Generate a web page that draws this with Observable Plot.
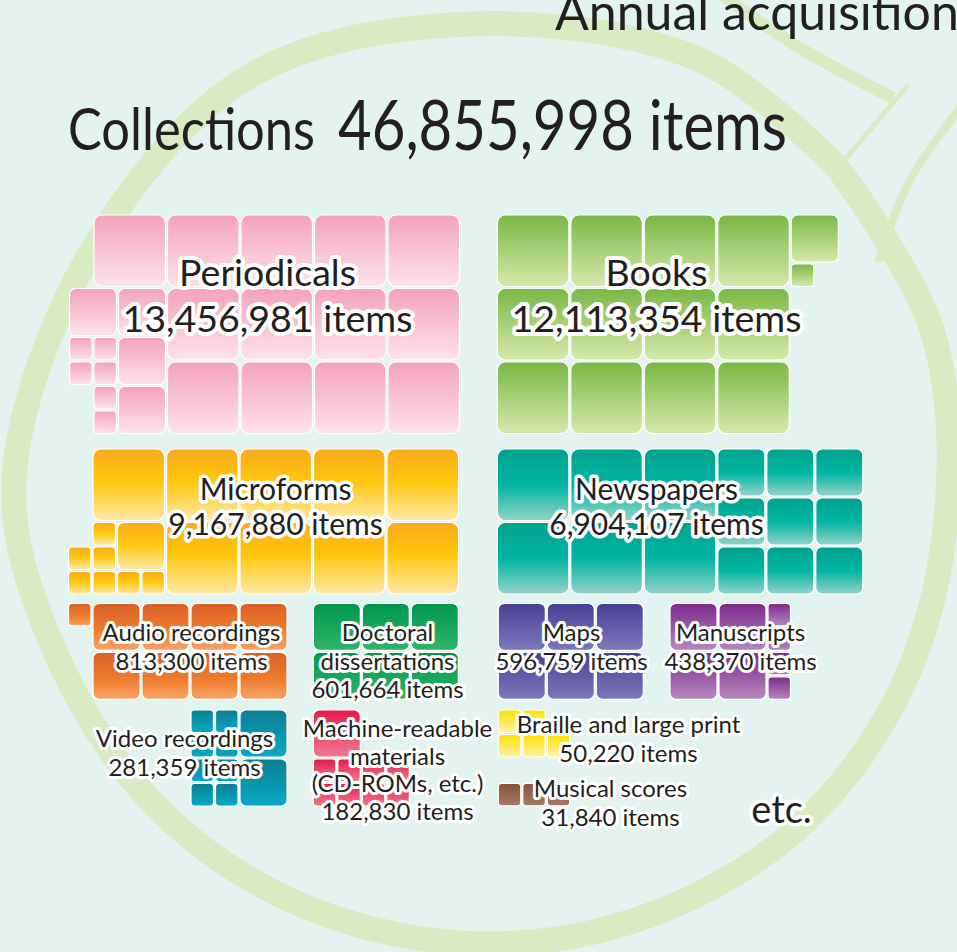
<!DOCTYPE html>
<html>
<head>
<meta charset="utf-8">
<script src="https://cdn.jsdelivr.net/npm/d3@7"></script>
<script src="https://cdn.jsdelivr.net/npm/@observablehq/plot@0.6"></script>
<style>
html,body{margin:0;padding:0;background:#e2f3f0;overflow:hidden}
#page{position:relative;width:957px;height:952px;overflow:hidden;background:#e2f3f0}
#page > svg{position:absolute;left:0;top:0}
</style>
</head>
<body>
<div id="page"></div>
<script>
// ---------------- data ----------------
const categories = ["Periodicals","Books","Microforms","Newspapers","Audio recordings",
  "Doctoral dissertations","Maps","Manuscripts","Video recordings",
  "Machine-readable materials (CD-ROMs, etc.)","Braille and large print","Musical scores"];
const items = [13456981,12113354,9167880,6904107,813300,601664,596759,438370,281359,182830,50220,31840];
const labelLines = [["Periodicals"],["Books"],["Microforms"],["Newspapers"],["Audio recordings"],
  ["Doctoral","dissertations"],["Maps"],["Manuscripts"],["Video recordings"],
  ["Machine-readable","materials","(CD-ROMs, etc.)"],["Braille and large print"],["Musical scores"]];
const unitValues = [1000000, 100000, 10000];   // big, medium, small square
const totalItems = 46855998;
const titleLabel = "Collections";
const otherTitle = "Annual acquisitions";
const moreLabel = "etc.";
const itemsWord = "items";

// ---------------- styles / layout ----------------
const gradients = [
  [[0,"#f4a2bb"],[1,"#fde2ea"]],
  [[0,"#79b743"],[1,"#d5eaab"]],
  [[0,"#f9aa1c"],[0.45,"#ffc60c"],[1,"#fee9a8"]],
  [[0,"#00a38a"],[0.5,"#00b4a4"],[1,"#94d4c7"]],
  [[0,"#d8602a"],[0.55,"#f07a2a"],[1,"#f6a366"]],
  [[0,"#00974b"],[1,"#2fb468"]],
  [[0,"#483d97"],[1,"#7e79bb"]],
  [[0,"#7c288c"],[1,"#b688bf"]],
  [[0,"#0c7f92"],[1,"#06a9c6"]],
  [[0,"#e21b4a"],[1,"#f27a92"]],
  [[0,"#ffe000"],[1,"#fff3a4"]],
  [[0,"#86503a"],[1,"#aa7a64"]]
];
const U = 24.5;               // grid pitch (small square)
const RX = {3: 8, 2: 6, 1: 3.5};
const blocks = [
  {x0:68.5, y0:214,   W:16, H:9, dir:"rtl", v:["down","down","down"], min:[0,0,3]},
  {x0:496.3,y0:214,   W:15, H:9, dir:"ltr", v:["down","down","down"], min:[0,0,0]},
  {x0:67.5, y0:448,   W:16, H:6, dir:"rtl", v:["down","down","up"],   min:[0,0,0]},
  {x0:496.3,y0:448,   W:15, H:6, dir:"ltr", v:["down","down","down"], min:[0,0,0]},
  {x0:67.5, y0:602.3, W:9,  H:4, dir:"rtl", v:["down","down","down"], min:[0,0,0]},
  {x0:312.3,y0:602.3, W:6,  H:4, dir:"ltr", v:["down","down","down"], min:[0,0,0]},
  {x0:497.3,y0:602.3, W:6,  H:4, dir:"ltr", v:["down","down","down"], min:[0,0,0]},
  {x0:669,  y0:602.3, W:5,  H:4, dir:"ltr", v:["down","down","down"], min:[0,0,0]},
  {x0:190,  y0:709,   W:4,  H:4, dir:"rtl", v:["down","down","down"], min:[0,0,0]},
  {x0:312.3,y0:709,   W:4,  H:4, dir:"ltr", v:["down","down","down"], min:[0,0,2]},
  {x0:497.3,y0:709,   W:3,  H:2, dir:"ltr", v:["down","down","up"],   min:[0,0,0]},
  {x0:497.3,y0:782.3, W:3,  H:1, dir:"ltr", v:["down","down","down"], min:[0,0,0]}
];
const labelPos = [
  {x:267, y:293.5, size:37.5, lh:1.25, halo:8},
  {x:656, y:293.5, size:37.5, lh:1.25, halo:8},
  {x:275, y:505.5, size:30,   lh:1.17, halo:7},
  {x:656, y:505.5, size:30,   lh:1.17, halo:7},
  {x:191, y:646,   size:24,   lh:1.17, halo:6},
  {x:387, y:660,   size:24,   lh:1.17, halo:6},
  {x:571, y:646,   size:24,   lh:1.17, halo:6},
  {x:740, y:646,   size:24,   lh:1.17, halo:6},
  {x:184, y:751.5, size:24,   lh:1.2,  halo:6},
  {x:397, y:769,   size:24,   lh:1.15, halo:6},
  {x:628, y:737.5, size:24,   lh:1.2,  halo:6},
  {x:610, y:802,   size:24,   lh:1.17, halo:6}
];

// ---------------- unit counts & packing ----------------
function unitCounts(v) {
  let r = Math.round(v / unitValues[2]) * unitValues[2];
  return unitValues.map(u => { const n = Math.floor(r / u); r -= n * u; return n; });
}
function pack(counts, b) {
  const occ = Array.from({length: b.H}, () => Array(b.W).fill(false));
  const free = (x, y, s) => { for (let j = y; j < y + s; j++) for (let i = x; i < x + s; i++) if (occ[j][i]) return false; return true; };
  const out = [];
  [3, 2, 1].forEach((s, k) => {
    for (let n = 0; n < counts[k]; n++) {
      const xs = d3.range(0, b.W - s + 1); if (b.dir === "rtl") xs.reverse();
      let done = false;
      for (const x of xs) {
        const ys = d3.range(b.min[k], b.H - s + 1); if (b.v[k] === "up") ys.reverse();
        for (const y of ys) {
          if (free(x, y, s)) {
            for (let j = y; j < y + s; j++) for (let i = x; i < x + s; i++) occ[j][i] = true;
            out.push({x, y, s}); done = true; break;
          }
        }
        if (done) break;
      }
    }
  });
  return out;
}
const pieces = [];
categories.forEach((c, i) => {
  const b = blocks[i];
  pack(unitCounts(items[i]), b).forEach(p => pieces.push({
    category: c, size: p.s,
    x1: b.x0 + p.x * U + 1, x2: b.x0 + (p.x + p.s) * U - 1,
    y1: b.y0 + p.y * U + 1, y2: b.y0 + (p.y + p.s) * U - 1,
    fill: `url(#grad-${i})`
  }));
});
const fmt = d3.format(",");
const labels = categories.map((c, i) => ({
  ...labelPos[i],
  text: labelLines[i].join("\n") + "\n" + fmt(items[i]) + " " + itemsWord
}));

// ---------------- background decoration & headings ----------------
const page = d3.select("#page");
const bg = page.append("svg").attr("width", 957).attr("height", 952);
const ringPts = [[838,168],[700,60],[470,24],[250,76],[92,250],[14,480],[50,640],[150,800],[290,900],[460,943],[630,922],[790,835],[898,695],[946,520],[932,330],[838,168]];
bg.append("path").attr("d", d3.line().curve(d3.curveCatmullRom)(ringPts))
  .attr("fill","none").attr("stroke","#d9ebc3").attr("stroke-width",25).attr("stroke-linecap","round");
bg.append("path").attr("d", d3.line().curve(d3.curveCatmullRom)([[722,-5],[800,48],[893,98]]))
  .attr("fill","none").attr("stroke","#d9ebc3").attr("stroke-width",12);
bg.append("path").attr("d", d3.line().curve(d3.curveCatmullRom)([[960,108],[910,180],[878,262]]))
  .attr("fill","none").attr("stroke","#d9ebc3").attr("stroke-width",8);
bg.append("path").attr("d", d3.line()([[908,85],[838,168]]))
  .attr("fill","none").attr("stroke","#d9ebc3").attr("stroke-width",5);
const head = bg.append("g").attr("fill","#231f20").attr("font-family","Lato, 'Open Sans', sans-serif");
head.append("text").attr("x",555).attr("y",30).attr("font-size",50).text(otherTitle);
head.append("text").attr("x",68).attr("y",150).attr("font-size",58)
  .attr("textLength",247).attr("lengthAdjust","spacingAndGlyphs").text(titleLabel);
head.append("text").attr("x",338).attr("y",150).attr("font-size",70)
  .attr("textLength",449).attr("lengthAdjust","spacingAndGlyphs").text(fmt(totalItems) + " " + itemsWord);

// ---------------- chart ----------------
const chart = Plot.plot({
  width: 957, height: 952, margin: 0,
  x: {domain: [0, 957], range: [0, 957], axis: null},
  y: {domain: [0, 952], range: [0, 952], axis: null},
  color: {type: "identity"},
  style: {background: "transparent", fontFamily: "Lato, 'Open Sans', sans-serif"},
  marks: [
    ...[3, 2, 1].map(s => Plot.rect(pieces.filter(p => p.size === s), {
      x1: "x1", x2: "x2", y1: "y1", y2: "y2", fill: "fill",
      stroke: "white", strokeWidth: 1.2, rx: RX[s]
    })),
    ...labels.map(l => Plot.text([l], {
      x: "x", y: "y", text: "text", fontSize: l.size, lineHeight: l.lh,
      fill: "#231f20", stroke: "white", strokeWidth: l.halo,
      strokeLinejoin: "round", paintOrder: "stroke", fontFamily: "Lato, 'Open Sans', sans-serif"
    })),
    Plot.text([{x: 781, y: 810, text: moreLabel}], {
      x: "x", y: "y", text: "text", fontSize: 38, fill: "#231f20",
      stroke: "white", strokeWidth: 7, strokeLinejoin: "round", paintOrder: "stroke"
    })
  ]
});
const defs = d3.select(chart).insert("defs", ":first-child");
gradients.forEach((stops, i) => {
  const g = defs.append("linearGradient").attr("id", `grad-${i}`)
    .attr("x1", 0).attr("y1", 0).attr("x2", 0).attr("y2", 1);
  stops.forEach(([o, col]) => g.append("stop").attr("offset", o).attr("stop-color", col));
});
document.getElementById("page").appendChild(chart);
</script>
</body>
</html>
